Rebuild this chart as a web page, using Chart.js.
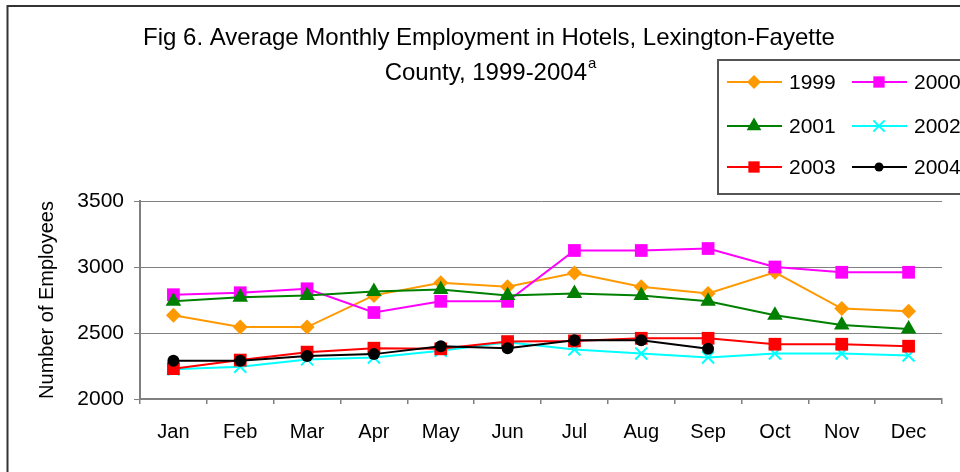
<!DOCTYPE html>
<html>
<head>
<meta charset="utf-8">
<script src="https://cdn.jsdelivr.net/npm/chart.js@4/dist/chart.umd.min.js"></script>
<style>
  html, body { margin: 0; padding: 0; background: #fff; }
  canvas { display: block; }
</style>
</head>
<body>
<canvas id="myChart" width="960" height="472"></canvas>
<script>
"use strict";

/* data */
var months = ['Jan', 'Feb', 'Mar', 'Apr', 'May', 'Jun', 'Jul', 'Aug', 'Sep', 'Oct', 'Nov', 'Dec'];
var years = ['1999', '2000', '2001', '2002', '2003', '2004'];
var y1999 = [2635, 2545, 2545, 2785, 2880, 2850, 2955, 2850, 2800, 2960, 2685, 2665];
var y2000 = [2790, 2805, 2835, 2655, 2740, 2740, 3125, 3125, 3140, 3000, 2960, 2960];
var y2001 = [2740, 2770, 2785, 2815, 2830, 2785, 2800, 2785, 2740, 2635, 2560, 2530];
var y2002 = [2225, 2245, 2300, 2315, 2365, 2430, 2375, 2345, 2315, 2345, 2345, 2330];
var y2003 = [2230, 2295, 2355, 2385, 2380, 2435, 2440, 2460, 2460, 2415, 2415, 2400];
var y2004 = [2290, 2290, 2325, 2340, 2400, 2385, 2445, 2445, 2380, null, null, null];
var yTicks = [2000, 2500, 3000, 3500];

var FONT = "'Liberation Sans', Arial, sans-serif";

/* look of each series: colour, marker, marker size */
var colorSet = ['#FF9900', '#FF00FF', '#008000', '#00FFFF', '#FF0000', '#000000'];
var markerSet = ['rectRot', 'rect', 'triangle', 'crossRot', 'rect', 'circle'];
var radiusSet = [7.5, 9, 9, 8.5, 9, 6];
var legendRadius = [7, 8, 8.5, 8, 8, 4.5];
var allValues = [y1999, y2000, y2001, y2002, y2003, y2004];

var datasets = [];
var i;
for (i = 0; i < years.length; i++) {
    datasets.push({
        label: years[i],
        data: allValues[i],
        borderColor: colorSet[i],
        backgroundColor: colorSet[i],
        pointBackgroundColor: colorSet[i],
        pointBorderColor: colorSet[i],
        pointStyle: markerSet[i],
        pointRadius: radiusSet[i],
        pointHoverRadius: radiusSet[i],
        pointBorderWidth: markerSet[i] === 'crossRot' ? 2 : 0,
        borderWidth: 2,
        tension: 0,
        spanGaps: false,
        order: years.length - i
    });
}

/* frame, title with superscript, boxed legend */
var decor = {
    id: 'decor',
    beforeDraw: function (chart) {
        var ctx = chart.ctx;
        ctx.save();
        ctx.fillStyle = '#fff';
        ctx.fillRect(0, 0, chart.width, chart.height);
        ctx.restore();
    },
    afterDraw: function (chart) {
        var ctx = chart.ctx;
        ctx.save();
        // outer frame
        ctx.strokeStyle = '#333';
        ctx.lineWidth = 2;
        ctx.strokeRect(7.5, 6, 970, 480);

        // title
        ctx.fillStyle = '#000';
        ctx.textBaseline = 'alphabetic';
        ctx.font = '24px ' + FONT;
        ctx.textAlign = 'center';
        ctx.fillText('Fig 6. Average Monthly Employment in Hotels, Lexington-Fayette', 489, 45);
        var main = 'County, 1999-2004';
        var mw = ctx.measureText(main).width;
        ctx.font = '15px ' + FONT;
        var sw = ctx.measureText('a').width;
        var x0 = 490 - (mw + sw) / 2;
        ctx.textAlign = 'left';
        ctx.font = '24px ' + FONT;
        ctx.fillText(main, x0, 80);
        ctx.font = '15px ' + FONT;
        ctx.fillText('a', x0 + mw + 1, 68);

        // legend box
        ctx.fillStyle = '#fff';
        ctx.fillRect(718, 60, 260, 134);
        ctx.strokeStyle = '#555';
        ctx.lineWidth = 2;
        ctx.strokeRect(718, 60, 260, 134);

        var rowY = [82, 126, 167];
        var colX = [727, 852];
        var k, cx, cy;
        for (k = 0; k < years.length; k++) {
            cx = colX[k % 2];
            cy = rowY[Math.floor(k / 2)];
            ctx.strokeStyle = colorSet[k];
            ctx.lineWidth = 2;
            ctx.beginPath();
            ctx.moveTo(cx, cy);
            ctx.lineTo(cx + 55, cy);
            ctx.stroke();
            ctx.fillStyle = colorSet[k];
            Chart.helpers.drawPoint(ctx, {
                pointStyle: markerSet[k],
                radius: legendRadius[k],
                rotation: 0,
                borderWidth: markerSet[k] === 'crossRot' ? 2 : 0
            }, cx + 27, cy);
            ctx.fillStyle = '#000';
            ctx.font = '21px ' + FONT;
            ctx.textAlign = 'left';
            ctx.textBaseline = 'middle';
            ctx.fillText(years[k], cx + 62, cy + 1);
        }
        ctx.restore();
    }
};

var ctx = document.getElementById('myChart');
var chart = new Chart(ctx, {
    type: 'line',
    data: {
        labels: months,
        datasets: datasets
    },
    options: {
        responsive: false,
        animation: false,
        devicePixelRatio: 1,
        layout: {
            padding: { top: 201, right: 18, bottom: 0, left: 0 }
        },
        plugins: {
            legend: { display: false },
            title: { display: false },
            tooltip: { enabled: false }
        },
        scales: {
            x: {
                offset: true,
                grid: {
                    offset: true,
                    drawOnChartArea: false,
                    drawTicks: true,
                    tickLength: 5,
                    color: '#808080',
                    lineWidth: 1.5
                },
                border: { color: '#808080', width: 2 },
                ticks: {
                    color: '#000',
                    font: { family: FONT, size: 20 },
                    padding: 16,
                    maxRotation: 0,
                    autoSkip: false
                },
                afterFit: function (scale) { scale.height = 73; }
            },
            y: {
                min: 2000,
                max: 3500,
                afterBuildTicks: function (scale) {
                    scale.ticks = yTicks.map(function (v) { return { value: v }; });
                },
                grid: {
                    color: '#808080',
                    lineWidth: 1,
                    drawTicks: true,
                    tickLength: 6
                },
                border: { color: '#808080', width: 2 },
                ticks: {
                    color: '#000',
                    font: { family: FONT, size: 21 },
                    padding: 10,
                    callback: function (v) { return String(v); }
                },
                title: {
                    display: true,
                    text: 'Number of Employees',
                    color: '#000',
                    font: { family: FONT, size: 20 },
                    padding: { top: 35, bottom: 0 }
                },
                afterFit: function (scale) { scale.width = 140; }
            }
        }
    },
    plugins: [decor]
});
</script>
</body>
</html>
